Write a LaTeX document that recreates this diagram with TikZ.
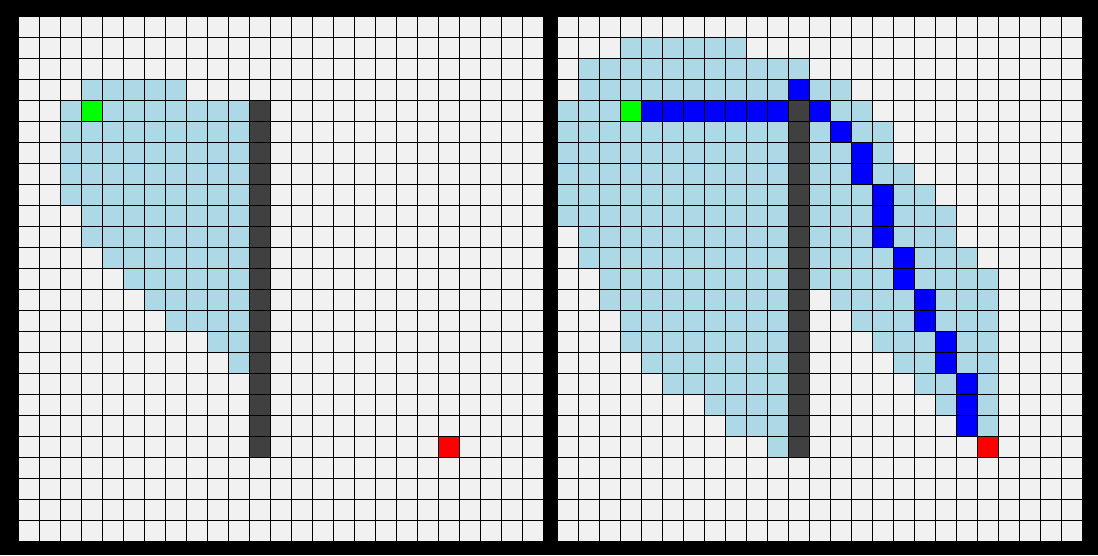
\documentclass[tikz,border=0pt]{standalone}

\definecolor{fondo}{RGB}{241,241,241}
\definecolor{celeste}{RGB}{173,216,230}
\definecolor{muro}{RGB}{64,64,64}

\begin{document}
\begin{tikzpicture}[
    x=4mm, y=-4mm,
    libre/.style={fill=fondo},
    visitada/.style={fill=celeste},
    camino/.style={fill=blue},
    pared/.style={fill=muro},
    inicio/.style={fill=green},
    objetivo/.style={fill=red},
    rejilla/.style={draw=black, line width=0.5pt}
]

% fondo negro de toda la figura
\fill[black] (-0.89,-0.795) rectangle (51.395,25.633);

% tablero izquierdo
\begin{scope}
  \fill[libre] (0,0) rectangle (25,25);
  \foreach \f/\a/\b in {3/3/7,4/2/10,5/2/10,6/2/10,7/2/10,8/2/10,9/3/10,10/3/10,
                        11/4/10,12/5/10,13/6/10,14/7/10,15/9/10,16/10/10}
    \fill[visitada] (\a,\f) rectangle (\b+1,\f+1);
  \fill[pared] (11,4) rectangle (12,21);
  \fill[inicio] (3,4) rectangle ++(1,1);
  \fill[objetivo] (20,20) rectangle ++(1,1);
  \foreach \i in {0,...,25} {
    \draw[rejilla] (\i,0) -- (\i,25);
    \draw[rejilla] (0,\i) -- (25,\i);
  }
\end{scope}

% tablero derecho
\begin{scope}[shift={(25.667,0)}]
  \fill[libre] (0,0) rectangle (25,25);
  \foreach \f/\a/\b in {1/3/8,2/1/11,3/1/13,4/0/14,5/0/15,6/0/15,7/0/16,8/0/17,
                        9/0/18,10/1/18,11/1/19,12/2/20,13/2/10,13/13/20,14/3/10,
                        14/14/20,15/3/10,15/15/20,16/4/10,16/16/20,17/5/10,
                        17/17/20,18/7/10,18/18/20,19/8/10,19/19/20,20/10/10}
    \fill[visitada] (\a,\f) rectangle (\b+1,\f+1);
  % celdas del camino encontrado
  \foreach \c/\f in {4/4,5/4,6/4,7/4,8/4,9/4,10/4,11/3,12/4,13/5,14/6,14/7,
                     15/8,15/9,15/10,16/11,16/12,17/13,17/14,18/15,18/16,
                     19/17,19/18,19/19}
    \fill[camino] (\c,\f) rectangle ++(1,1);
  \fill[pared] (11,4) rectangle (12,21);
  \fill[inicio] (3,4) rectangle ++(1,1);
  \fill[objetivo] (20,20) rectangle ++(1,1);
  \foreach \i in {0,...,25} {
    \draw[rejilla] (\i,0) -- (\i,25);
    \draw[rejilla] (0,\i) -- (25,\i);
  }
\end{scope}

\end{tikzpicture}
\end{document}
